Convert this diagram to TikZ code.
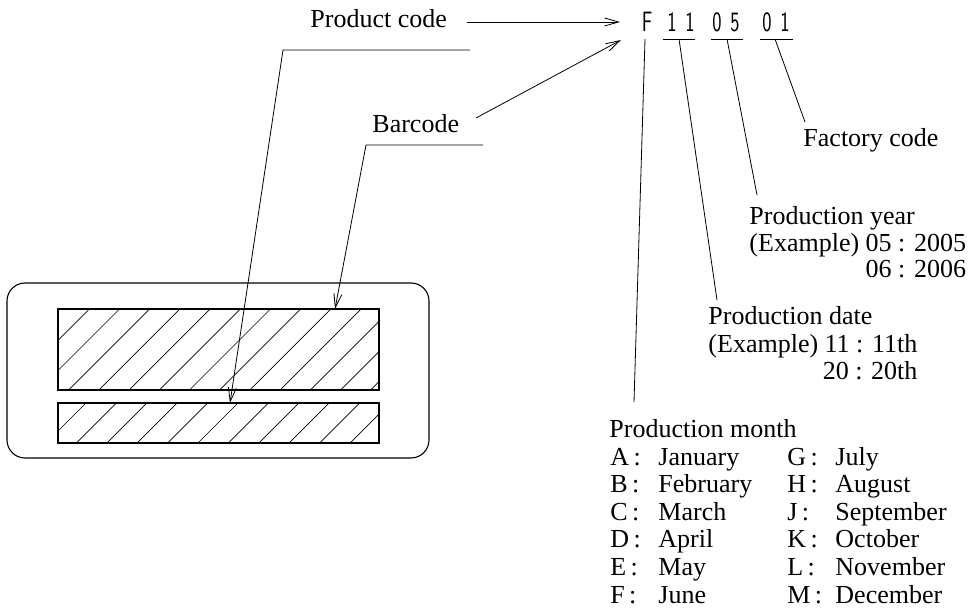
\documentclass[tikz,border=0pt]{standalone}
\usepackage{fontspec}
\usepackage{graphicx}
\setmainfont{Liberation Serif}
\usetikzlibrary{arrows.meta}
\begin{document}
\begin{tikzpicture}[x=1pt,y=-1pt,
  line width=0.9pt,
  lbl/.style={inner sep=0pt, anchor=base west, font=\fontsize{26}{28}\selectfont},
  lble/.style={inner sep=0pt, anchor=base east, font=\fontsize{26}{28}\selectfont},
  codech/.style={inner sep=0pt, anchor=base, font=\fontsize{28}{28}\sffamily},
  leader/.style={line width=0.8pt},
  barb/.style={-{Straight Barb[length=14pt,width=8pt]}},
  hatch/.style={line width=0.7pt},
  frame/.style={line width=1.1pt}]
\useasboundingbox (0,0) rectangle (974,612);

% ---------- label plate ----------
\draw[frame, rounded corners=18pt] (7,283) rectangle (429,458);
\begin{scope}
  \clip (58,309) rectangle (379,390);
  \foreach \k in {0,...,12} {
    \pgfmathsetmacro\cc{398.3+30.2*\k}
    \draw[hatch] (\cc-390,390) -- (\cc-309,309);
  }
\end{scope}
\begin{scope}
  \clip (58,403) rectangle (379,443);
  \foreach \k in {0,...,10} {
    \pgfmathsetmacro\cc{489+30.4*\k}
    \draw[hatch] (\cc-443,443) -- (\cc-403,403);
  }
\end{scope}
\draw[frame] (58,309) rectangle (379,390);
\draw[frame] (58,403) rectangle (379,443);

% ---------- labels on the left ----------
\node[lbl] (pc) at (310,28) {Product code};
\node[lbl] (bc) at (372,133) {Barcode};

\coordinate (pcA) at (467,22);
\coordinate (pcB) at (620,22);
\coordinate (bcA) at (476,118);
\coordinate (bcB) at (621,40);
\draw[leader, barb] (pcA) -- (pcB);
\draw[leader, barb] (bcA) -- (bcB);

\coordinate (pcL1) at (470,50);
\coordinate (pcL2) at (283,50);
\coordinate (lowT) at (230,403);
\draw[leader, barb] (pcL1) -- (pcL2) -- (lowT);

\coordinate (bcL1) at (483,145);
\coordinate (bcL2) at (366,145);
\coordinate (upT) at (335,309);
\draw[leader, barb] (bcL1) -- (bcL2) -- (upT);

% ---------- code characters ----------
\node[codech] (cF)  at (647,32) {\scalebox{0.7}[1]{F}};
\node[codech] (c1a) at (672,32) {\scalebox{0.7}[1]{1}};
\node[codech] (c1b) at (690,32) {\scalebox{0.7}[1]{1}};
\node[codech] (c0a) at (717,32) {\scalebox{0.7}[1]{0}};
\node[codech] (c5)  at (735,32) {\scalebox{0.7}[1]{5}};
\node[codech] (c0b) at (767,32) {\scalebox{0.7}[1]{0}};
\node[codech] (c1c) at (785,32) {\scalebox{0.7}[1]{1}};

\draw[leader] (663,39) -- (695,39);
\draw[leader] (711,39) -- (743,39);
\draw[leader] (760,39) -- (793,39);

\coordinate (sF) at (645,39);
\coordinate (sD) at (679,39);
\coordinate (sY) at (727,39);
\coordinate (sC) at (775,39);
\coordinate (eF) at (634,402);
\coordinate (eD) at (717,300);
\coordinate (eY) at (757,195);
\coordinate (eC) at (805,122);
\draw[leader] (sF) -- (eF);
\draw[leader] (sD) -- (eD);
\draw[leader] (sY) -- (eY);
\draw[leader] (sC) -- (eC);

% ---------- explanations ----------
\node[lbl] (fc) at (803,147) {Factory code};

\node[lbl] (py)  at (749,225) {Production year};
\node[lbl] (py1) at (749,252) {(Example) 05 : 2005};
\node[lble] (py2) at (py1.base east |- 0,278) {06 : 2006};

\node[lbl] (pd)  at (708,324) {Production date};
\node[lbl] (pd1) at (708,352) {(Example) 11 : 11th};
\node[lble] (pd2) at (pd1.base east |- 0,379) {20 : 20th};

\node[lbl] (pm) at (609,437) {Production month};
\foreach \r/\lA/\nA/\lB/\nB in {0/A/January/G/July, 1/B/February/H/August,
    2/C/March/J/September, 3/D/April/K/October, 4/E/May/L/November,
    5/F/June/M/December} {
  \pgfmathsetmacro\yy{465+27.6*\r}
  \node[lbl] (ma\r) at (610,\yy) {\lA\,:};
  \node[lbl] (na\r) at (658,\yy) {\nA};
  \node[lbl] (mb\r) at (787,\yy) {\lB\,:};
  \node[lbl] (nb\r) at (835,\yy) {\nB};
}
\end{tikzpicture}
\end{document}
